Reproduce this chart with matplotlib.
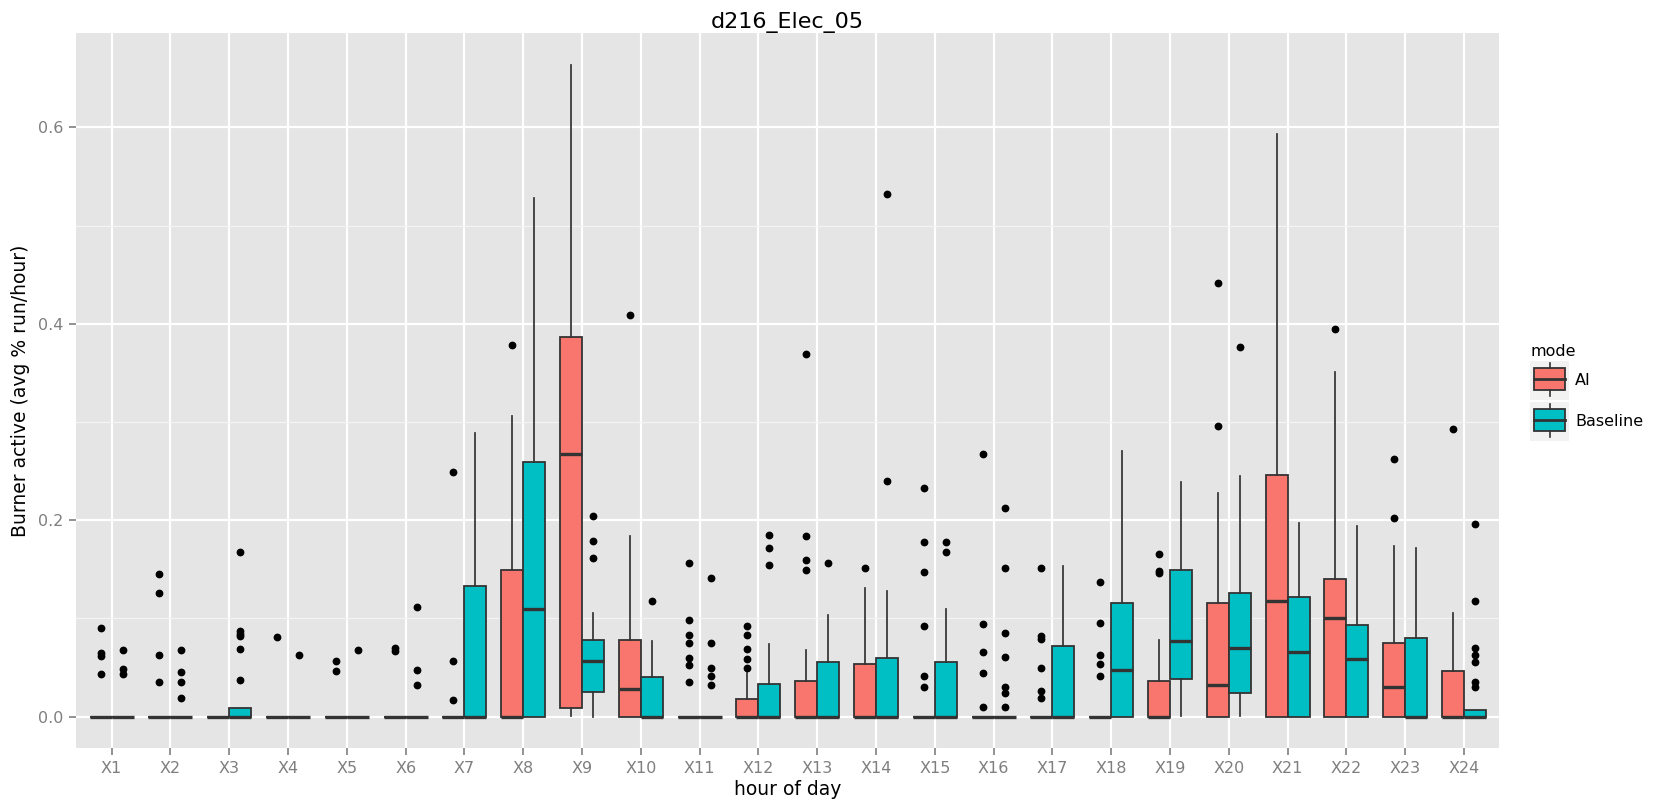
import matplotlib
matplotlib.use("Agg")
import matplotlib.pyplot as plt
from matplotlib.legend_handler import HandlerBase
from matplotlib.patches import Rectangle
from matplotlib.lines import Line2D

# ---------------- data ----------------
hours = ["X%d" % i for i in range(1, 25)]
modes = ["AI", "Baseline"]

# AI mode box statistics per hour
ai_q1 = [0, 0, 0, 0, 0, 0, 0, 0, 0.009, 0, 0, 0, 0, 0, 0, 0, 0, 0, 0, 0, 0, 0, 0, 0]
ai_med = [0, 0, 0, 0, 0, 0, 0, 0, 0.267, 0.028, 0, 0, 0, 0, 0, 0, 0, 0, 0, 0.032, 0.118, 0.100, 0.030, 0]
ai_q3 = [0, 0, 0, 0, 0, 0, 0, 0.149, 0.387, 0.078, 0, 0.018, 0.036, 0.054, 0, 0, 0, 0, 0.036, 0.116, 0.246, 0.140, 0.075, 0.047]
ai_lo = [0, 0, 0, 0, 0, 0, 0, 0, 0.001, 0, 0, 0, 0, 0, 0, 0, 0, 0, 0, 0, 0, 0, 0, 0]
ai_hi = [0, 0, 0, 0, 0, 0, 0, 0.306, 0.663, 0.184, 0, 0.044, 0.068, 0.131, 0, 0, 0, 0, 0.078, 0.228, 0.593, 0.351, 0.174, 0.106]
ai_out = [
    [0.090, 0.065, 0.062, 0.043],
    [0.145, 0.126, 0.063, 0.035],
    [],
    [0.081],
    [0.057, 0.046],
    [0.070, 0.067],
    [0.249, 0.057, 0.017],
    [0.378],
    [],
    [0.409],
    [0.156, 0.098, 0.083, 0.075, 0.060, 0.053, 0.035],
    [0.092, 0.083, 0.069, 0.059, 0.050],
    [0.369, 0.184, 0.159, 0.149],
    [0.151],
    [0.233, 0.178, 0.147, 0.092, 0.041, 0.030],
    [0.267, 0.094, 0.066, 0.044, 0.010],
    [0.151, 0.082, 0.079, 0.050, 0.026, 0.019],
    [0.137, 0.095, 0.063, 0.054, 0.041],
    [0.166, 0.148, 0.146],
    [0.442, 0.296],
    [],
    [0.395],
    [0.262, 0.202],
    [0.293],
]

# Baseline mode box statistics per hour
bl_q1 = [0, 0, 0, 0, 0, 0, 0, 0, 0.025, 0, 0, 0, 0, 0, 0, 0, 0, 0, 0.038, 0.024, 0, 0, 0, 0]
bl_med = [0, 0, 0, 0, 0, 0, 0, 0.110, 0.057, 0, 0, 0, 0, 0, 0, 0, 0, 0.048, 0.077, 0.070, 0.066, 0.059, 0, 0]
bl_q3 = [0, 0, 0.0085, 0, 0, 0, 0.133, 0.259, 0.078, 0.040, 0, 0.033, 0.056, 0.060, 0.056, 0, 0.072, 0.116, 0.149, 0.126, 0.122, 0.093, 0.080, 0.007]
bl_lo = [0, 0, 0, 0, 0, 0, 0, 0, 0.0, 0, 0, 0, 0, 0, 0, 0, 0, 0, 0.001, 0.001, 0, 0, 0, 0]
bl_hi = [0, 0, 0.0085, 0, 0, 0, 0.289, 0.528, 0.106, 0.077, 0, 0.074, 0.103, 0.128, 0.110, 0, 0.153, 0.270, 0.239, 0.245, 0.197, 0.194, 0.172, 0.007]
bl_out = [
    [0.068, 0.049, 0.043],
    [0.068, 0.045, 0.035, 0.019],
    [0.168, 0.087, 0.084, 0.082, 0.069, 0.037],
    [0.063],
    [0.068],
    [0.112, 0.048, 0.032],
    [],
    [],
    [0.204, 0.179, 0.162],
    [0.118],
    [0.141, 0.075, 0.050, 0.041, 0.032],
    [0.185, 0.172, 0.154],
    [0.156],
    [0.532, 0.240],
    [0.178, 0.168],
    [0.212, 0.151, 0.085, 0.061, 0.030, 0.024, 0.010],
    [],
    [],
    [],
    [0.376],
    [],
    [],
    [],
    [0.196, 0.118, 0.070, 0.063, 0.056, 0.035, 0.030],
]

y_ticks = [0.0, 0.2, 0.4, 0.6]
y_minor = [0.1, 0.3, 0.5]

# ---------------- style ----------------
W, H = 1664, 810
COL = {"AI": "#F8766D", "Baseline": "#00BFC4"}
EDGE = "#333333"
PANEL = "#E5E5E5"
KEY_BG = "#F2F2F2"
TICK_COL = "#7F7F7F"
plt.rcParams["font.family"] = ["DejaVu Sans"]

fig = plt.figure(figsize=(W / 100, H / 100), dpi=100)
ax = fig.add_axes([76.3 / W, 1 - 748.3 / H, (1499.3 - 76.3) / W, (748.3 - 33.3) / H])
ax.set_facecolor(PANEL)
for s in ax.spines.values():
    s.set_visible(False)

def stats_for(q1, med, q3, lo, hi, out):
    return [dict(q1=a, med=b, q3=c, whislo=d, whishi=e, fliers=f, label="")
            for a, b, c, d, e, f in zip(q1, med, q3, lo, hi, out)]

groups = [
    ("AI", stats_for(ai_q1, ai_med, ai_q3, ai_lo, ai_hi, ai_out), -0.1875),
    ("Baseline", stats_for(bl_q1, bl_med, bl_q3, bl_lo, bl_hi, bl_out), 0.1875),
]
for mode, st, off in groups:
    pos = [i + 1 + off for i in range(len(hours))]
    ax.bxp(st, positions=pos, widths=0.375, patch_artist=True, showcaps=False,
           boxprops=dict(facecolor=COL[mode], edgecolor=EDGE, linewidth=1.3),
           medianprops=dict(color=EDGE, linewidth=2.4, solid_capstyle="butt"),
           whiskerprops=dict(color=EDGE, linewidth=1.25),
           flierprops=dict(marker="o", markerfacecolor="black", markeredgecolor="black",
                           markersize=4.6, linestyle="none"),
           manage_ticks=False, zorder=3)

ax.set_xlim(0.4, 24.6)
ax.set_ylim(-0.0322, 0.6957)
ax.set_xticks(range(1, len(hours) + 1))
ax.set_xticklabels(hours)
ax.set_yticks(y_ticks)
ax.set_yticklabels(["%.1f" % v for v in y_ticks])
ax.set_yticks(y_minor, minor=True)
ax.set_axisbelow(True)
ax.grid(which="major", color="white", linewidth=1.6)
ax.grid(which="minor", axis="y", color="#F4F4F4", linewidth=0.9)
ax.tick_params(axis="both", which="major", colors=TICK_COL, labelcolor=TICK_COL,
               length=5, width=1.2, labelsize=11.5, pad=4)
ax.tick_params(axis="y", which="minor", length=0)

ax.set_xlabel("hour of day", fontsize=13.5, labelpad=3, color="black")
ax.set_ylabel("Burner active (avg % run/hour)", fontsize=13.5, labelpad=6, color="black")
ax.set_title("d216_Elec_05", fontsize=16, pad=2.5, color="black")

# ---------------- legend ----------------
class BoxKeyHandler(HandlerBase):
    def create_artists(self, legend, orig_handle, xdescent, ydescent, width, height,
                       fontsize, trans):
        x0, y0 = -xdescent, -ydescent
        bg = Rectangle((x0, y0), width, height, facecolor=KEY_BG, edgecolor="none",
                       transform=trans)
        bw = width * 0.82
        bx = x0 + (width - bw) / 2
        by = y0 + height * 0.26
        bh = height * 0.56
        box = Rectangle((bx, by), bw, bh, facecolor=orig_handle.get_facecolor(),
                        edgecolor=EDGE, linewidth=1.3, transform=trans)
        cx = x0 + width / 2
        w1 = Line2D([cx, cx], [y0 + height * 0.10, by], color=EDGE, linewidth=1.2,
                    transform=trans)
        w2 = Line2D([cx, cx], [by + bh, y0 + height * 0.94], color=EDGE, linewidth=1.2,
                    transform=trans)
        med = Line2D([bx, bx + bw], [by + bh / 2, by + bh / 2], color=EDGE,
                     linewidth=2.0, transform=trans)
        return [bg, box, w1, w2, med]

handles = [Rectangle((0, 0), 1, 1, facecolor=COL[m]) for m in modes]
hm = {h: BoxKeyHandler() for h in handles}
fs = 11.5
key_pt = 39 * 72 / 100          # key size in points
hl = key_pt / fs
# matplotlib subtracts a descent from the handle height; solve so the drawn key is square
hh = (key_pt / fs - 0.245) / 0.65
fig.legend(handles, modes, handler_map=hm, title="mode", loc="upper left",
           bbox_to_anchor=(1530 / W, 1 - 344 / H), frameon=False, fontsize=fs,
           title_fontsize=fs, handlelength=hl, handleheight=hh, labelspacing=0.12,
           handletextpad=0.38, borderpad=0, borderaxespad=0, alignment="left")

fig.savefig("out.png", dpi=100)
